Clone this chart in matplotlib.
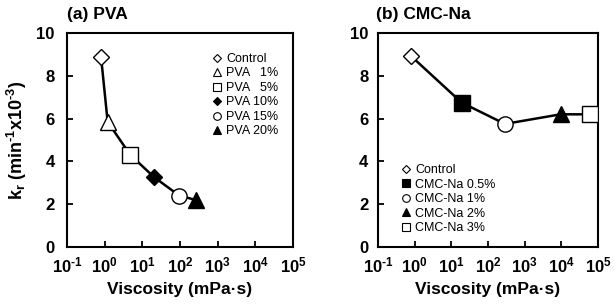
import matplotlib
matplotlib.use("Agg")
import matplotlib.pyplot as plt
from matplotlib.lines import Line2D

plt.rcParams['font.family'] = ['Liberation Sans', 'DejaVu Sans']
plt.rcParams['mathtext.fontset'] = 'custom'
plt.rcParams['mathtext.rm'] = 'Liberation Sans'
plt.rcParams['mathtext.bf'] = 'Liberation Sans:bold'
plt.rcParams['mathtext.it'] = 'Liberation Sans:italic'

HY = '\u2010'  # short hyphen for superscript minus

########################### Data ##############################
pva_labels = ['Control', 'PVA   1%', 'PVA   5%', 'PVA 10%', 'PVA 15%', 'PVA 20%']
pva_visc = [0.8, 1.2, 4.8, 21, 96, 260]
pva_kr = [8.9, 5.85, 4.3, 3.25, 2.4, 2.2]
pva_markers = ['D', '^', 's', 'D', 'o', '^']
pva_fills = ['white', 'white', 'white', 'black', 'white', 'black']

cmc_labels = ['Control', 'CMC-Na 0.5%', 'CMC-Na 1%', 'CMC-Na 2%', 'CMC-Na 3%']
cmc_visc = [0.8, 19, 290, 9500, 60000]
cmc_kr = [8.92, 6.75, 5.75, 6.2, 6.2]
cmc_markers = ['D', 's', 'o', '^', 's']
cmc_fills = ['white', 'black', 'white', 'black', 'white']

x_ticks = [0.1, 1, 10, 100, 1000, 10000, 100000]
x_exps = [HY + '1', '0', '1', '2', '3', '4', '5']
y_ticks = [0, 2, 4, 6, 8, 10]

W, H = 615, 305
fig = plt.figure(figsize=(W / 100, H / 100), dpi=100)


def panel(rect, visc, kr, markers, fills, labels, legend_anchor, ypad):
    ax = fig.add_axes(rect)
    ax.plot(visc, kr, color='black', linewidth=1.8, zorder=2)
    for x, y, m, f in zip(visc, kr, markers, fills):
        size = 8.5 if m == 'D' else 11
        ax.plot([x], [y], marker=m, markersize=size, markerfacecolor=f,
                markeredgecolor='black', markeredgewidth=1.0, linestyle='none', zorder=3)
    ax.set_xscale('log')
    ax.set_xlim(0.1, 1e5)
    ax.set_ylim(0, 10)
    ax.set_xticks(x_ticks)
    ax.set_xticklabels(['$\\mathbf{10^{' + e + '}}$' for e in x_exps], fontsize=12)
    ax.minorticks_off()
    ax.set_yticks(y_ticks)
    ax.set_yticklabels([str(v) for v in y_ticks], fontsize=12, fontweight='bold')
    ax.tick_params(direction='in', length=4, width=1.3)
    ax.tick_params(axis='x', pad=6)
    ax.tick_params(axis='y', pad=ypad)
    for s in ax.spines.values():
        s.set_linewidth(1.5)
    ax.set_xlabel('Viscosity (mPa·s)', fontsize=12.5, fontweight='bold', labelpad=5)

    handles = [Line2D([], [], marker=m, markersize=(4.5 if m == 'D' else 5.5), markerfacecolor=f,
                      markeredgecolor='black', markeredgewidth=0.8, linestyle='none')
               for m, f in zip(markers, fills)]
    ax.legend(handles, labels, loc='upper left', bbox_to_anchor=legend_anchor, frameon=False,
              fontsize=9, handlelength=0.8, handletextpad=0.35, labelspacing=0.2,
              borderaxespad=0)
    return ax


ax1 = panel([67 / W, (H - 247) / H, 226 / W, 214 / H], pva_visc, pva_kr, pva_markers,
            pva_fills, pva_labels, (0.62, 0.93), 9)
ax1.set_ylabel('$\\mathbf{k_r\\ (min^{' + HY + '1}x10^{' + HY + '3})}$', fontsize=13, labelpad=5)

ax2 = panel([378 / W, (H - 247) / H, 220 / W, 214 / H], cmc_visc, cmc_kr, cmc_markers,
            cmc_fills, cmc_labels, (0.08, 0.41), 7)

fig.text(67 / W, 1 - 15 / H, '(a) PVA', fontsize=12.5, fontweight='bold', va='center', ha='left')
fig.text(376 / W, 1 - 15 / H, '(b) CMC-Na', fontsize=12.5, fontweight='bold', va='center', ha='left')

fig.savefig('out.png', dpi=100)
